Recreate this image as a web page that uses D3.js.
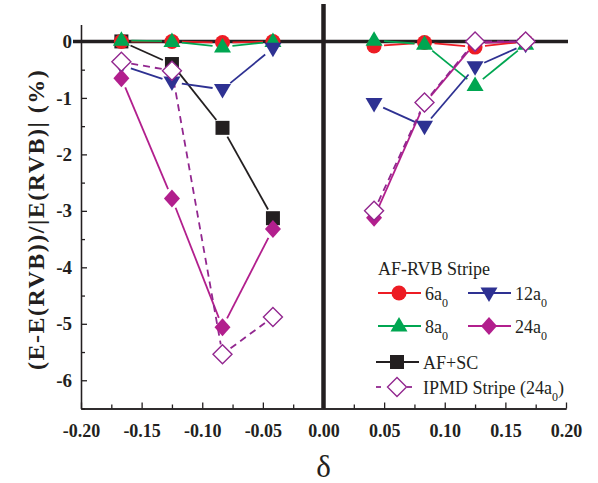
<!DOCTYPE html>
<html>
<head>
<meta charset="utf-8">
<script src="https://cdn.jsdelivr.net/npm/d3@7"></script>
<style>
  body { margin: 0; background: #fff; }
</style>
</head>
<body>
<div id="chart"></div>
<script>
// Data
var deltaLeft = [-0.1667, -0.125, -0.0833, -0.0417];
var deltaRight = [0.0417, 0.0833, 0.125, 0.1667];

var rvb6Left = [0.0, 0.0, -0.02, 0.0];
var rvb6Right = [-0.08, -0.02, -0.1, 0.0];
var rvb8Left = [0.02, 0.0, -0.1, 0.0];
var rvb8Right = [0.02, -0.05, -0.78, -0.05];
var rvb12Left = [-0.42, -0.72, -0.85, -0.12];
var rvb12Right = [-1.1, -1.5, -0.45, -0.05];
var rvb24Left = [-0.65, -2.78, -5.06, -3.32];
var rvb24Right = [-3.12, -1.1, -0.03, 0.0];
var afscLeft = [0.0, -0.4, -1.53, -3.13];
var ipmdLeft = [-0.36, -0.52, -5.54, -4.88];
var ipmdRight = [-3.0, -1.08, 0.0, 0.0];

var xTicks = [-0.20, -0.15, -0.10, -0.05, 0.00, 0.05, 0.10, 0.15, 0.20];
var yTicks = [0, -1, -2, -3, -4, -5, -6];

var serif = "'Liberation Serif', 'Times New Roman', Times, 'DejaVu Serif', serif";

var svgWidth = 598;
var svgHeight = 483;

var svg = d3.select("#chart")
  .append("svg")
  .attr("width", svgWidth)
  .attr("height", svgHeight)
  .attr("font-family", serif);

var x = d3.scaleLinear().domain([-0.2, 0.2]).range([81, 566]);
var y = d3.scaleLinear().domain([-6.5, 0.3]).range([408.5, 24.5]);

// Axes (ticks point inward)
var bottomAxis = d3.axisBottom(x)
  .tickValues(xTicks)
  .tickSizeInner(-6).tickSizeOuter(0)
  .tickFormat(d => d3.format(".2f")(d).replace("−", "-"));
var bottomMinor = d3.axisBottom(x)
  .tickValues(d3.range(-0.175, 0.2, 0.05))
  .tickSizeInner(-4).tickSizeOuter(0).tickFormat("");

var gx = svg.append("g")
  .attr("transform", `translate(0, ${y(-6.5)})`)
  .call(bottomAxis)
  .attr("font-family", serif);
gx.selectAll("text")
  .attr("dy", null)
  .attr("y", 28)
  .attr("fill", "#231f20")
  .style("font-family", serif)
  .style("font-size", "18px")
  .style("font-weight", "bold");
svg.append("g")
  .attr("transform", `translate(0, ${y(-6.5)})`)
  .call(bottomMinor);

var leftAxis = d3.axisLeft(y)
  .tickValues(yTicks)
  .tickSizeInner(-6).tickSizeOuter(0)
  .tickPadding(9)
  .tickFormat(d => d3.format("d")(d).replace("−", "-"));
var leftMinor = d3.axisLeft(y)
  .tickValues([-0.5, -1.5, -2.5, -3.5, -4.5, -5.5, -6.5])
  .tickSizeInner(-4).tickSizeOuter(0).tickFormat("");

var gy = svg.append("g")
  .attr("transform", `translate(${x(-0.2)}, 0)`)
  .call(leftAxis)
  .attr("font-family", serif);
gy.selectAll("text")
  .attr("fill", "#231f20")
  .style("font-family", serif)
  .style("font-size", "19px")
  .style("font-weight", "bold");
svg.append("g")
  .attr("transform", `translate(${x(-0.2)}, 0)`)
  .call(leftMinor);

svg.selectAll(".domain, .tick line")
  .attr("stroke", "#231f20")
  .attr("stroke-width", 1.3);

// Thick reference lines at y = 0 and delta = 0
svg.append("line")
  .attr("x1", 73).attr("x2", 568)
  .attr("y1", y(0)).attr("y2", y(0))
  .attr("stroke", "#231f20").attr("stroke-width", 3.5);
svg.append("line")
  .attr("x1", x(0)).attr("x2", x(0))
  .attr("y1", 4).attr("y2", y(-6.5))
  .attr("stroke", "#231f20").attr("stroke-width", 4.5);

// Axis titles
svg.append("text")
  .attr("transform", `translate(44, ${y(-3.15)}) rotate(-90)`)
  .attr("text-anchor", "middle")
  .attr("fill", "#231f20")
  .style("font-family", serif)
  .style("font-size", "24px")
  .style("font-weight", "bold")
  .style("letter-spacing", "1.5px")
  .text("(E-E(RVB))/|E(RVB)| (%)");

svg.append("text")
  .attr("x", x(0))
  .attr("y", 477)
  .attr("text-anchor", "middle")
  .attr("fill", "#231f20")
  .style("font-family", serif)
  .style("font-size", "31px")
  .text("δ");

// Marker shapes
var shapes = {
  circle: "M7.5,0A7.5,7.5 0 1,1 -7.5,0A7.5,7.5 0 1,1 7.5,0Z",
  up: "M0,-9L8.5,5.5L-8.5,5.5Z",
  down: "M0,9L8.5,-5.5L-8.5,-5.5Z",
  square: "M-7,-7L7,-7L7,7L-7,7Z",
  diamond: "M0,-9L8,0L0,9L-8,0Z",
  open: "M0,-9.5L9.5,0L0,9.5L-9.5,0Z"
};

var series = [
  { name: "afsc", color: "#231f20", shape: "square", parts: [[deltaLeft, afscLeft]] },
  { name: "6a0", color: "#ed1c24", shape: "circle", parts: [[deltaLeft, rvb6Left], [deltaRight, rvb6Right]] },
  { name: "8a0", color: "#00a651", shape: "up", parts: [[deltaLeft, rvb8Left], [deltaRight, rvb8Right]] },
  { name: "12a0", color: "#2e3192", shape: "down", parts: [[deltaLeft, rvb12Left], [deltaRight, rvb12Right]] },
  { name: "24a0", color: "#b21f8d", shape: "diamond", parts: [[deltaLeft, rvb24Left], [deltaRight, rvb24Right]] },
  { name: "ipmd", color: "#92278f", shape: "open", dashed: true, parts: [[deltaLeft, ipmdLeft], [deltaRight, ipmdRight]] }
];

// Origin-style segments with a small gap at each marker
var gap = 10;
function segments(xs, ys) {
  var out = [];
  for (var i = 0; i < xs.length - 1; i++) {
    var x1 = x(xs[i]), y1 = y(ys[i]), x2 = x(xs[i + 1]), y2 = y(ys[i + 1]);
    var len = Math.hypot(x2 - x1, y2 - y1);
    if (len <= 2 * gap) continue;
    var ux = (x2 - x1) / len, uy = (y2 - y1) / len;
    out.push({ x1: x1 + ux * gap, y1: y1 + uy * gap, x2: x2 - ux * gap, y2: y2 - uy * gap });
  }
  return out;
}

series.forEach(function(s) {
  var g = svg.append("g").attr("class", "series-" + s.name);
  s.parts.forEach(function(p) {
    g.selectAll(null)
      .data(segments(p[0], p[1]))
      .enter()
      .append("line")
      .attr("x1", d => d.x1).attr("y1", d => d.y1)
      .attr("x2", d => d.x2).attr("y2", d => d.y2)
      .attr("stroke", s.color)
      .attr("stroke-width", 1.8)
      .attr("stroke-dasharray", s.dashed ? "7,5" : null);
  });
});

series.forEach(function(s) {
  var g = svg.append("g");
  s.parts.forEach(function(p) {
    g.selectAll(null)
      .data(p[0].map((d, i) => [d, p[1][i]]))
      .enter()
      .append("path")
      .attr("transform", d => `translate(${x(d[0])}, ${y(d[1])})`)
      .attr("d", shapes[s.shape])
      .attr("fill", s.shape === "open" ? "#fff" : s.color)
      .attr("stroke", s.shape === "open" ? s.color : "none")
      .attr("stroke-width", 1.4);
  });
});

// Legend
var legend = svg.append("g");
legend.append("text")
  .attr("x", 378).attr("y", 275)
  .attr("fill", "#231f20")
  .style("font-family", serif)
  .style("font-size", "18px")
  .text("AF-RVB Stripe");

var legendItems = [
  { color: "#ed1c24", shape: "circle", x: 378, y: 293, label: "6a", sub: "0" },
  { color: "#2e3192", shape: "down", x: 468, y: 293, label: "12a", sub: "0" },
  { color: "#00a651", shape: "up", x: 378, y: 326, label: "8a", sub: "0" },
  { color: "#b21f8d", shape: "diamond", x: 468, y: 326, label: "24a", sub: "0" },
  { color: "#231f20", shape: "square", x: 376, y: 362, label: "AF+SC" },
  { color: "#92278f", shape: "open", x: 376, y: 387, label: "IPMD Stripe (24a", sub: "0", tail: ")", dashed: true }
];

legendItems.forEach(function(d) {
  if (d.dashed) {
    legend.append("line").attr("x1", d.x).attr("x2", d.x + 5)
      .attr("y1", d.y).attr("y2", d.y)
      .attr("stroke", d.color).attr("stroke-width", 1.8);
    legend.append("line").attr("x1", d.x + 31).attr("x2", d.x + 36)
      .attr("y1", d.y).attr("y2", d.y)
      .attr("stroke", d.color).attr("stroke-width", 1.8);
  } else {
    legend.append("line").attr("x1", d.x).attr("x2", d.x + 43)
      .attr("y1", d.y).attr("y2", d.y)
      .attr("stroke", d.color).attr("stroke-width", 1.8);
  }
  legend.append("path")
    .attr("transform", `translate(${d.x + 21}, ${d.y})`)
    .attr("d", shapes[d.shape])
    .attr("fill", d.shape === "open" ? "#fff" : d.color)
    .attr("stroke", d.shape === "open" ? d.color : "none")
    .attr("stroke-width", 1.4);

  var t = legend.append("text")
    .attr("x", d.x + 47).attr("y", d.y + 7)
    .attr("fill", "#231f20")
    .style("font-family", serif)
    .style("font-size", "18px");
  t.append("tspan").text(d.label);
  if (d.sub) {
    t.append("tspan").attr("dy", 7).style("font-size", "12px").text(d.sub);
  }
  if (d.tail) {
    t.append("tspan").attr("dy", -7).text(d.tail);
  }
});
</script>
</body>
</html>
